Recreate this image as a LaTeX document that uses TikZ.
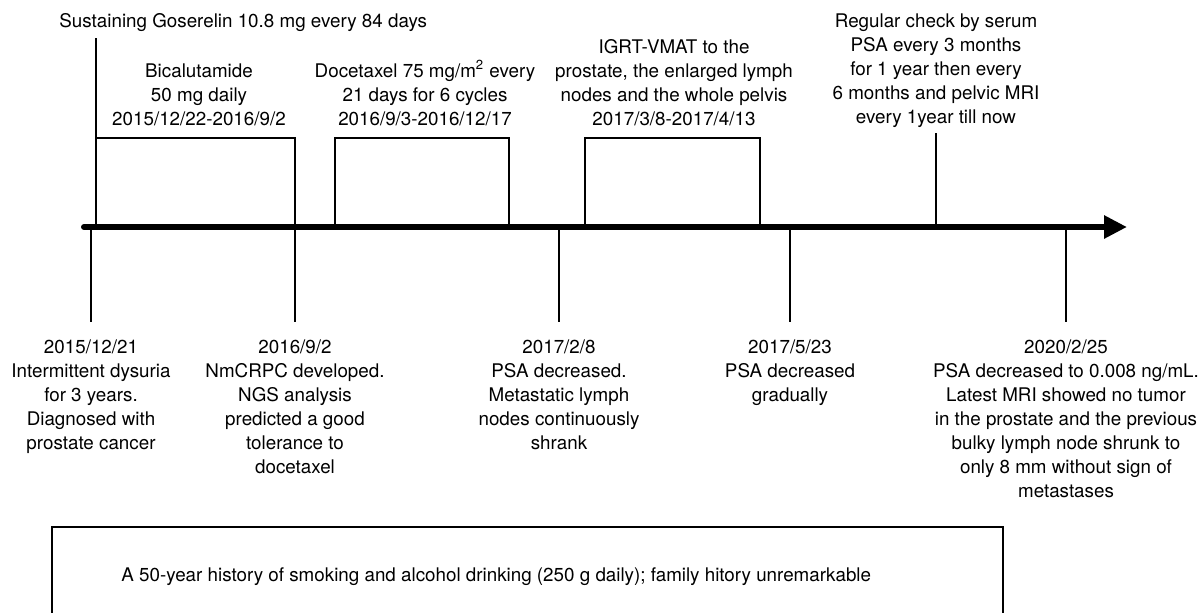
\documentclass[tikz,border=0pt]{standalone}
\usepackage{fontspec}
\setmainfont{TeX Gyre Heros}
\usetikzlibrary{positioning,arrows.meta}

\begin{document}
\begin{tikzpicture}[x=0.5pt,y=-0.5pt,
    lbl/.style={align=center,inner sep=0pt,font=\fontsize{9.4}{12}\selectfont},
    bar/.style={line width=1pt},
    axis/.style={line width=3pt,line cap=round,-{Triangle[length=11.5pt,width=11pt]}}]
  \useasboundingbox (0,0) rectangle (1198,612);

  \coordinate (s) at (84,227);
  \coordinate (e) at (1127,227);

  \node[lbl,anchor=base west] (g) at (59,27) {Sustaining Goserelin 10.8 mg every 84 days};
  \node[lbl,anchor=base] (b) at (199,125.5) {Bicalutamide\\50 mg daily\\2015/12/22-2016/9/2};
  \node[lbl,anchor=base] (c) at (425,125.5) {Docetaxel 75 mg/m\textsuperscript{2} every\\21 days for 6 cycles\\2016/9/3-2016/12/17};
  \node[lbl,anchor=base] (r) at (674,125.5) {IGRT-VMAT to the\\prostate, the enlarged lymph\\nodes and the whole pelvis\\2017/3/8-2017/4/13};
  \node[lbl,anchor=base] (m) at (936,123) {Regular check by serum\\PSA every 3 months\\for 1 year then every\\6 months and pelvic MRI\\every 1year till now};

  \coordinate (g0) at (96,38);
  \coordinate (g1) at (96,227);
  \coordinate (b1) at (295,138);
  \coordinate (b2) at (295,227);
  \coordinate (c0) at (335,227);
  \coordinate (c1) at (509,138);
  \coordinate (c2) at (509,227);
  \coordinate (r0) at (585,227);
  \coordinate (r1) at (760,138);
  \coordinate (r2) at (760,227);
  \coordinate (m0) at (936,133);
  \coordinate (m1) at (936,227);

  \draw[bar] (g0) -- (g1);
  \draw[bar] (g0 |- b1) -- (b1) -- (b2);
  \draw[bar] (c0) |- (c1) -- (c2);
  \draw[bar] (r0) |- (r1) -- (r2);
  \draw[bar] (m0) -- (m1);

  \node[lbl,anchor=base] (d1) at (91,449) {2015/12/21\\Intermittent dysuria\\for 3 years.\\Diagnosed with\\prostate cancer};
  \node[lbl,anchor=base] (d2) at (295,473) {2016/9/2\\NmCRPC developed.\\NGS analysis\\predicted a good\\tolerance to\\docetaxel};
  \node[lbl,anchor=base] (d3) at (559,449) {2017/2/8\\PSA decreased.\\Metastatic lymph\\nodes continuously\\shrank};
  \node[lbl,anchor=base] (d4) at (790,401) {2017/5/23\\PSA decreased\\gradually};
  \node[lbl,anchor=base] (d5) at (1066,497) {2020/2/25\\PSA decreased to 0.008 ng/mL.\\Latest MRI showed no tumor\\in the prostate and the previous\\bulky lymph node shrunk to\\only 8 mm without sign of\\metastases};

  \coordinate (t1) at (91,322);
  \coordinate (t2) at (295,322);
  \coordinate (t3) at (559,322);
  \coordinate (t4) at (790,322);
  \coordinate (t5) at (1066,322);

  \draw[bar] (t1 |- s) -- (t1);
  \draw[bar] (t2 |- s) -- (t2);
  \draw[bar] (t3 |- s) -- (t3);
  \draw[bar] (t4 |- s) -- (t4);
  \draw[bar] (t5 |- s) -- (t5);

  \draw[axis] (s) -- (e);

  \draw[line width=0.9pt] (52,614) |- (1003,527) -- (1003,614);
  \node[lbl,anchor=base west] (h) at (121,581) {A 50-year history of smoking and alcohol drinking (250 g daily); family hitory unremarkable};
\end{tikzpicture}
\end{document}
